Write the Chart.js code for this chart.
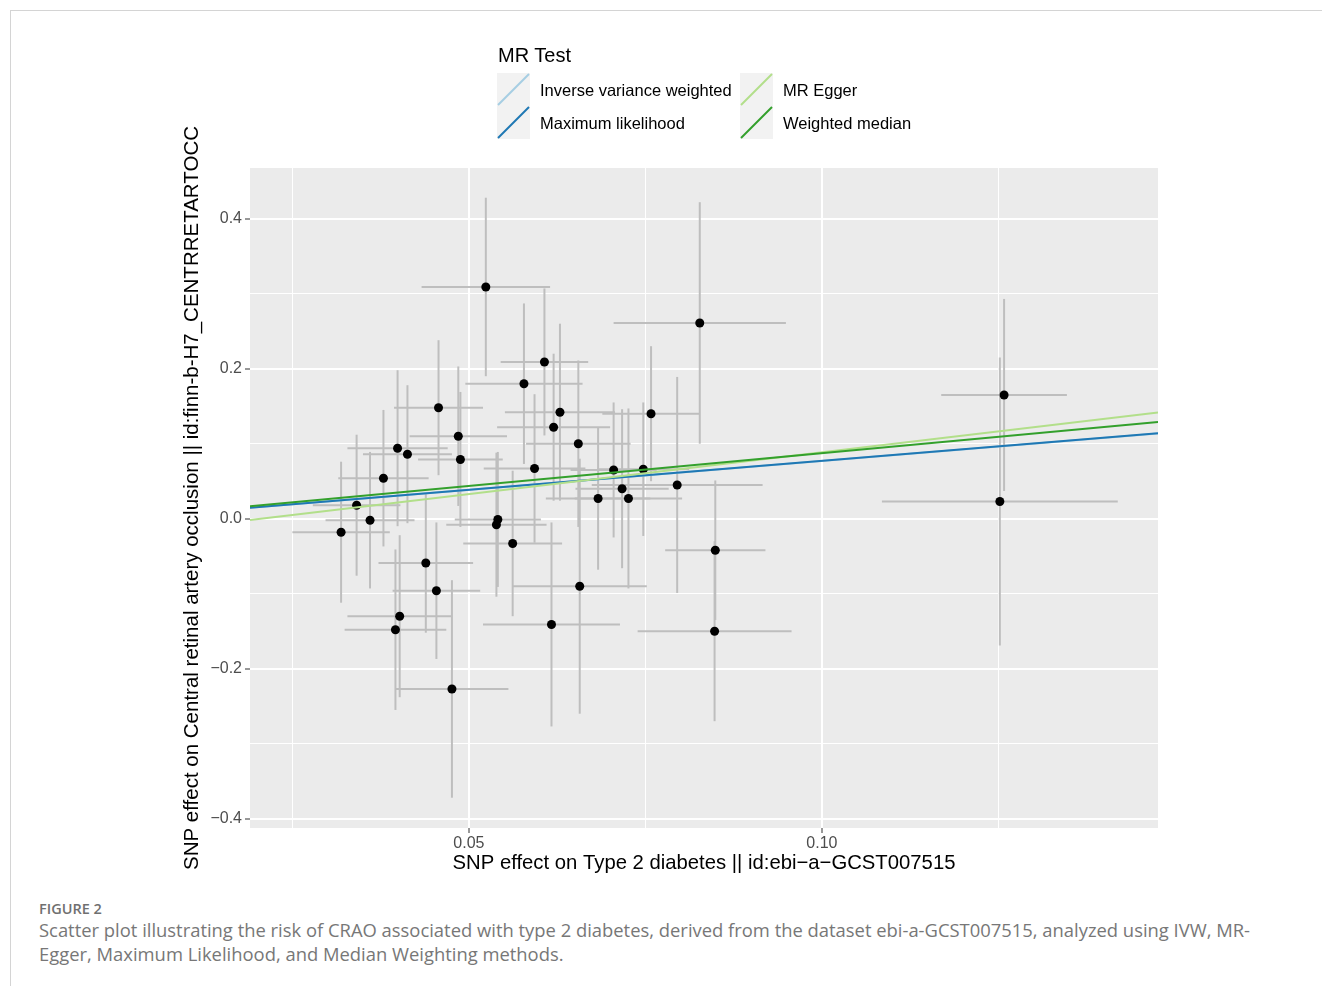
<!DOCTYPE html>
<html>
<head>
<meta charset="utf-8">
<script src="https://cdn.jsdelivr.net/npm/chart.js@4"></script>
<style>
  body { margin: 0; background: #fff; width: 1322px; height: 986px; position: relative; overflow: hidden; font-family: "Liberation Sans", Arial, sans-serif; }
  #frame { position: absolute; left: 10px; top: 10px; right: 0; bottom: 0; border-top: 1px solid #d4d4d4; border-left: 1px solid #d4d4d4; }
  #plot { position: absolute; left: 0; top: 0; }
  #legend { position: absolute; left: 497px; top: 42px; color: #000; font-family: "Liberation Sans", Arial, sans-serif; }
  #legend .title { font-size: 20px; line-height: 26px; margin-left: 1px; }
  #legend .item { position: absolute; width: 240px; height: 33px; }
  #legend .item svg { position: absolute; left: 0; top: 0; }
  #legend .item span { position: absolute; left: 43px; top: 7px; font-size: 16.5px; line-height: 20px; white-space: nowrap; }
  #fig { position: absolute; left: 39px; top: 899px; font-family: "Open Sans", sans-serif; font-size: 14.5px; font-weight: 600; color: #707070; }
  #caption { position: absolute; left: 39px; top: 918px; font-family: "Open Sans", sans-serif; font-size: 18.4px; line-height: 24px; color: #777; white-space: nowrap; }
</style>
</head>
<body>
<div id="frame"></div>
<canvas id="plot" width="1322" height="880"></canvas>
<div id="legend"><div class="title">MR Test</div></div>
<div id="fig">FIGURE 2</div>
<div id="caption">Scatter plot illustrating the risk of CRAO associated with type 2 diabetes, derived from the dataset ebi-a-GCST007515, analyzed using IVW, MR-<br>Egger, Maximum Likelihood, and Median Weighting methods.</div>
<script>
// SNP effects (exposure = type 2 diabetes, outcome = CRAO) and their standard errors
const snpX = [0.0319, 0.0341, 0.0360, 0.0379, 0.0399, 0.0413, 0.0457, 0.0485, 0.0488, 0.0402,
              0.0396, 0.0439, 0.0454, 0.0476, 0.0524, 0.0607, 0.0578, 0.0629, 0.0620, 0.0655,
              0.0593, 0.0541, 0.0539, 0.0683, 0.0562, 0.0657, 0.0617, 0.0827, 0.0758, 0.0705,
              0.0747, 0.0717, 0.0726, 0.0795, 0.0849, 0.0848, 0.1258, 0.1252];
const snpY = [-0.018, 0.018, -0.002, 0.054, 0.094, 0.086, 0.148, 0.110, 0.079, -0.130,
              -0.148, -0.059, -0.096, -0.227, 0.309, 0.209, 0.180, 0.142, 0.122, 0.100,
              0.067, -0.001, -0.008, 0.027, -0.033, -0.090, -0.141, 0.261, 0.140, 0.065,
              0.066, 0.040, 0.027, 0.045, -0.042, -0.150, 0.165, 0.023];
const seX = [0.0069, 0.0062, 0.0063, 0.0064, 0.0071, 0.0063, 0.0063, 0.0069, 0.0060, 0.0074,
             0.0072, 0.0067, 0.0062, 0.0080, 0.0091, 0.0062, 0.0083, 0.0078, 0.0080, 0.0074,
             0.0072, 0.0061, 0.0071, 0.0074, 0.0070, 0.0095, 0.0097, 0.0122, 0.0069, 0.0061,
             0.0065, 0.0066, 0.0076, 0.0121, 0.0071, 0.0109, 0.0089, 0.0167];
const seY = [0.094, 0.094, 0.091, 0.091, 0.104, 0.092, 0.090, 0.093, 0.090, 0.108,
             0.107, 0.093, 0.091, 0.145, 0.119, 0.098, 0.107, 0.118, 0.098, 0.111,
             0.099, 0.090, 0.096, 0.095, 0.097, 0.170, 0.136, 0.161, 0.090, 0.090,
             0.089, 0.106, 0.120, 0.144, 0.093, 0.120, 0.128, 0.192];

// MR methods: fitted lines y = intercept + slope * x
const methods = ["Inverse variance weighted", "Maximum likelihood", "MR Egger", "Weighted median"];
const slopes = [0.769, 0.771, 1.115, 0.874];
const intercepts = [0, 0, -0.0229, 0];
const methodColors = ["#A6CEE3", "#1F78B4", "#B2DF8A", "#33A02C"];

// axis breaks
const xTicks = [0.025, 0.05, 0.075, 0.10, 0.125];
const xTickLabels = ["", "0.05", "", "0.10", ""];
const yTicks = [-0.4, -0.3, -0.2, -0.1, 0, 0.1, 0.2, 0.3, 0.4];
const yTickLabels = ["\u22120.4", "", "\u22120.2", "", "0.0", "", "0.2", "", "0.4"];

const xMin = 0.019, xMax = 0.1476, yMin = -0.4124, yMax = 0.4676;

// legend (html)
const legendEl = document.getElementById("legend");
methods.forEach((m, i) => {
  const col = Math.floor(i / 2), row = i % 2;
  const item = document.createElement("div");
  item.className = "item";
  item.style.left = (col * 243) + "px";
  item.style.top = (31 + row * 33) + "px";
  item.innerHTML = '<svg width="33" height="33"><rect width="33" height="33" fill="#F2F2F2"/>' +
    '<line x1="1" y1="32" x2="32" y2="1" stroke="' + methodColors[i] + '" stroke-width="2"/></svg>' +
    '<span>' + m + '</span>';
  legendEl.appendChild(item);
});

const panelBg = {
  id: "panelBg",
  beforeDraw(chart) {
    const { ctx, chartArea: a } = chart;
    ctx.save();
    ctx.fillStyle = "#EBEBEB";
    ctx.fillRect(a.left, a.top, a.width, a.height);
    ctx.restore();
  }
};

const errorBars = {
  id: "errorBars",
  beforeDatasetsDraw(chart) {
    const { ctx, chartArea: a, scales: { x, y } } = chart;
    ctx.save();
    ctx.beginPath();
    ctx.rect(a.left, a.top, a.width, a.height);
    ctx.clip();
    ctx.strokeStyle = "#BEBEBE";
    ctx.lineWidth = 2;
    // vertical bars first, then horizontal
    snpX.forEach((bx, i) => {
      const px = x.getPixelForValue(bx);
      ctx.beginPath();
      ctx.moveTo(px, y.getPixelForValue(snpY[i] - seY[i]));
      ctx.lineTo(px, y.getPixelForValue(snpY[i] + seY[i]));
      ctx.stroke();
    });
    snpX.forEach((bx, i) => {
      const py = y.getPixelForValue(snpY[i]);
      ctx.beginPath();
      ctx.moveTo(x.getPixelForValue(bx - seX[i]), py);
      ctx.lineTo(x.getPixelForValue(bx + seX[i]), py);
      ctx.stroke();
    });
    ctx.restore();
  }
};

const lineSets = methods.map((m, i) => ({
  type: "line",
  label: m,
  data: [xMin, xMax].map(v => ({ x: v, y: intercepts[i] + slopes[i] * v })),
  borderColor: methodColors[i],
  borderWidth: 2,
  pointRadius: 0,
  fill: false,
  order: 4 - i
}));

new Chart(document.getElementById("plot"), {
  type: "scatter",
  data: {
    datasets: [
      {
        label: "SNPs",
        data: snpX.map((v, i) => ({ x: v, y: snpY[i] })),
        backgroundColor: "#000",
        borderWidth: 0,
        pointRadius: 4.5,
        order: 5
      },
      ...lineSets
    ]
  },
  options: {
    responsive: false,
    animation: false,
    devicePixelRatio: 1,
    layout: { padding: { left: 180, right: 164, top: 168, bottom: 4 } },
    plugins: { legend: { display: false }, tooltip: { enabled: false } },
    scales: {
      x: {
        type: "linear",
        min: xMin,
        max: xMax,
        afterBuildTicks: s => { s.ticks = xTicks.map(v => ({ value: v })); },
        afterFit: s => { s.height = 48; },
        ticks: {
          callback: (v, i) => xTickLabels[i],
          color: "#4D4D4D",
          font: { family: "Liberation Sans", size: 16 },
          padding: 1,
          maxRotation: 0,
          autoSkip: false
        },
        grid: {
          color: "#FFFFFF",
          lineWidth: c => (xTickLabels[c.index] ? 2 : 1),
          tickColor: c => (xTickLabels[c.index] ? "#333333" : "rgba(0,0,0,0)"),
          tickLength: 5,
          tickWidth: 1
        },
        border: { display: false },
        title: {
          display: true,
          text: "SNP effect on Type 2 diabetes || id:ebi\u2212a\u2212GCST007515",
          color: "#000",
          font: { family: "Liberation Sans", size: 20.3 },
          padding: 0
        }
      },
      y: {
        type: "linear",
        min: yMin,
        max: yMax,
        afterBuildTicks: s => { s.ticks = yTicks.map(v => ({ value: v })); },
        afterFit: s => { s.width = 70; },
        ticks: {
          callback: (v, i) => yTickLabels[i],
          color: "#4D4D4D",
          font: { family: "Liberation Sans", size: 16 },
          padding: 3,
          autoSkip: false
        },
        grid: {
          color: "#FFFFFF",
          lineWidth: c => (yTickLabels[c.index] ? 2 : 1),
          tickColor: c => (yTickLabels[c.index] ? "#333333" : "rgba(0,0,0,0)"),
          tickLength: 5,
          tickWidth: 1
        },
        border: { display: false },
        title: {
          display: true,
          text: "SNP effect on Central retinal artery occlusion || id:finn-b-H7_CENTRRETARTOCC",
          color: "#000",
          font: { family: "Liberation Sans", size: 20.5 },
          padding: 0
        }
      }
    }
  },
  plugins: [panelBg, errorBars]
});
</script>
</body>
</html>
